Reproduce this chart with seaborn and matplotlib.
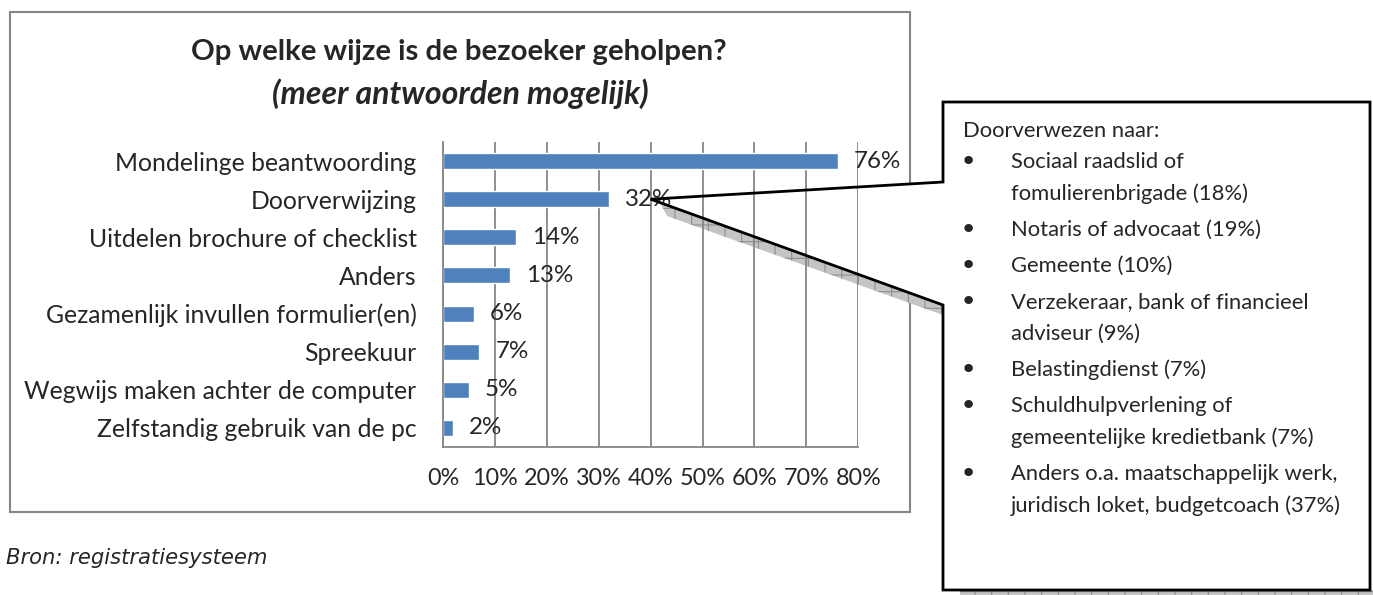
import numpy as np
import matplotlib
matplotlib.use("Agg")
import matplotlib.pyplot as plt
from matplotlib.patches import Rectangle, Polygon
import seaborn as sns

# data
categories = [
    "Mondelinge beantwoording",
    "Doorverwijzing",
    "Uitdelen brochure of checklist",
    "Anders",
    "Gezamenlijk invullen formulier(en)",
    "Spreekuur",
    "Wegwijs maken achter de computer",
    "Zelfstandig gebruik van de pc",
]
percentages = [76, 32, 14, 13, 6, 7, 5, 2]

referral_labels = [
    "Sociaal raadslid of\nfomulierenbrigade",
    "Notaris of advocaat",
    "Gemeente",
    "Verzekeraar, bank of financieel\nadviseur",
    "Belastingdienst",
    "Schuldhulpverlening of\ngemeentelijke kredietbank",
    "Anders o.a. maatschappelijk werk,\njuridisch loket, budgetcoach",
]
referral_pct = [18, 19, 10, 9, 7, 7, 37]

title_main = "Op welke wijze is de bezoeker geholpen?"
title_sub = "(meer antwoorden mogelijk)"
callout_head = "Doorverwezen naar:"
source_note = "Bron: registratiesysteem"

x_ticks = [0, 0.1, 0.2, 0.3, 0.4, 0.5, 0.6, 0.7, 0.8]

# style
sns.set_style("white")
plt.rcParams["font.family"] = ["Lato", "DejaVu Sans"]
plt.rcParams["hatch.linewidth"] = 0.8

bar_color = "#4F81BD"
grid_color = "#868686"
shadow_face = "#c4c4c4"
shadow_hatch = "#8e8e8e"
W, H = 1373, 595


def fx(x):
    return x / W


def fy(y):
    return 1 - y / H


fig = plt.figure(figsize=(W / 100, H / 100), dpi=100)

# chart border
fig.patches.append(Rectangle((fx(10), fy(512)), fx(900), 500 / H, transform=fig.transFigure,
                             fill=False, edgecolor=grid_color, lw=1.5, zorder=-3))

ax = fig.add_axes([fx(443), fy(447), (858.3 - 443) / W, (447 - 142) / H])
ax.patch.set_alpha(0)

values = [p / 100 for p in percentages]
sns.barplot(x=values, y=categories, orient="h", color=bar_color, saturation=1,
            width=0.42, ax=ax)
ax.bar_label(ax.containers[0], labels=[f"{p}%" for p in percentages],
             padding=11.5, fontsize=17.4)

ax.set_xlim(0, 0.8)
ax.set_ylim(len(categories) - 0.5, -0.5)
ax.set_xlabel("")
ax.set_ylabel("")
ax.set_axisbelow(True)
ax.xaxis.grid(True, color=grid_color, lw=1.3)
sns.despine(ax=ax, top=True, right=True)
for s in ["left", "bottom"]:
    ax.spines[s].set_color(grid_color)
    ax.spines[s].set_linewidth(1.3)

ax.set_xticks(x_ticks)
ax.set_xticklabels([f"{round(t * 100)}%" for t in x_ticks])
ax.tick_params(axis="x", direction="out", length=5, width=1.3, color=grid_color,
               pad=10, labelsize=16.8)
ax.tick_params(axis="y", which="major", length=0, pad=19, labelsize=17.8)
ax.set_yticks(np.arange(-0.5, len(categories), 1), minor=True)
ax.tick_params(axis="y", which="minor", direction="out", length=5, width=1.3, color=grid_color)

# titles
fig.text(fx(459), fy(52), title_main, ha="center", va="center", fontsize=21.2, fontweight="bold")
fig.text(fx(460), fy(94), title_sub, ha="center", va="center", fontsize=23,
         fontweight="bold", style="italic")

# source note
fig.text(fx(6), fy(558), source_note, ha="left", va="center", fontsize=15.2,
         style="italic", family="DejaVu Sans")

# callout pointing at the "Doorverwijzing" label
tip = fig.transFigure.inverted().transform(ax.transData.transform((0.40, 1)))
tip_px = (tip[0] * W, (1 - tip[1]) * H)
box_l, box_r, box_t, box_b = 943, 1370, 102, 590
upper_y, lower_y = 182, 305


def on_lower_line(x):
    return tip_px[1] + (lower_y - tip_px[1]) * (x - tip_px[0]) / (box_l - tip_px[0])


shadow_px = [(660, on_lower_line(660)), (box_l, lower_y), (box_l, lower_y + 10), (667, 216)]
fig.patches.append(Polygon([(fx(a), fy(b)) for a, b in shadow_px], closed=True,
                           transform=fig.transFigure, facecolor=shadow_face,
                           edgecolor=shadow_hatch, hatch="+", lw=0, zorder=-2))
fig.patches.append(Rectangle((fx(960), fy(597)), fx(W - 960), 7 / H, transform=fig.transFigure,
                             facecolor=shadow_face, edgecolor=shadow_hatch, hatch="+", lw=0,
                             zorder=-2))

outline = [tip, (fx(box_l), fy(upper_y)), (fx(box_l), fy(box_t)), (fx(box_r), fy(box_t)),
           (fx(box_r), fy(box_b)), (fx(box_l), fy(box_b)), (fx(box_l), fy(lower_y))]
fig.patches.append(Polygon(outline, closed=True, transform=fig.transFigure,
                           facecolor="white", edgecolor="none", zorder=-1))
fig.patches.append(Polygon(outline, closed=True, transform=fig.transFigure,
                           fill=False, edgecolor="black", lw=2, zorder=5))

fig.text(fx(963), fy(131), callout_head, ha="left", va="center", fontsize=15.8)
y = 162
for label, pct in zip(referral_labels, referral_pct):
    lines = f"{label} ({pct}%)".split("\n")
    fig.text(fx(968), fy(y), "\u2022", ha="center", va="center", fontsize=21,
             family="DejaVu Sans")
    for k, line in enumerate(lines):
        fig.text(fx(1011), fy(y + 32 * k), line, ha="left", va="center", fontsize=15.8)
    y += 32 * (len(lines) - 1) + 36

fig.savefig("out.png", dpi=100)
